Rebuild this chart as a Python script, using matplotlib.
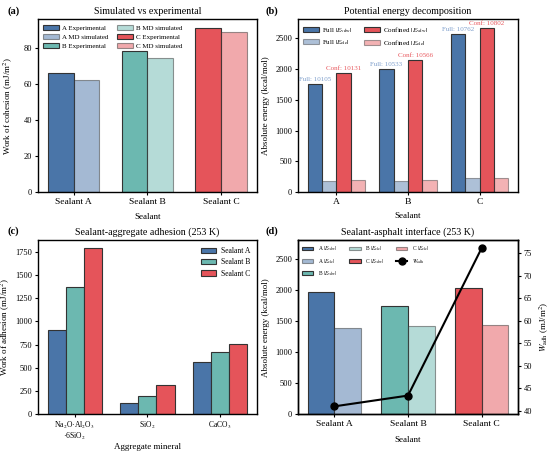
import matplotlib
matplotlib.use("Agg")
import matplotlib.pyplot as plt
import numpy as np

plt.rcParams['font.family'] = ['Liberation Serif', 'DejaVu Serif']
plt.rcParams['mathtext.fontset'] = 'stix'
plt.rcParams['font.size'] = 6.5

# ---- data ----
sealants = ['Sealant A', 'Sealant B', 'Sealant C']
short_sealants = ['A', 'B', 'C']
exp_cohesion = [66.0, 78.5, 91.5]
md_cohesion = [62.2, 74.8, 88.8]

full_vdw = [1750, 2000, 2560]
full_ele = [180, 190, 230]
conf_vdw = [1930, 2140, 2670]
conf_ele = [195, 205, 230]
full_total = [10105, 10533, 10762]
conf_total = [10131, 10566, 10802]

minerals = ['Na$_2$O·Al$_2$O$_3$\n·6SiO$_2$', 'SiO$_2$', 'CaCO$_3$']
adh_A = [910, 125, 565]
adh_B = [1365, 195, 665]
adh_C = [1785, 315, 760]

int_vdw = [1970, 1745, 2040]
int_ele = [1395, 1420, 1440]
w_adh = [41.0, 43.4, 76.2]

cA, cB, cC = '#4a75a8', '#6cb8b0', '#e5545a'
colors = [cA, cB, cC]
edge = '#333333'

fig = plt.figure(figsize=(5.5, 4.51), dpi=100)
W, H = 550.0, 451.0
def rect(l, r, t, b):
    return [l / W, 1 - b / H, (r - l) / W, (b - t) / H]

axa = fig.add_axes(rect(37.7, 257, 19.3, 192.3))
axb = fig.add_axes(rect(297.7, 518.3, 19.3, 192.3))
axc = fig.add_axes(rect(37.7, 257, 240, 414.3))
axd = fig.add_axes(rect(297.7, 518.3, 240, 414.3))

x = np.arange(3)
leg_kw = dict(frameon=False, handlelength=2.3, handletextpad=0.4, labelspacing=0.45,
              borderaxespad=0.4)
TITLE = 7.2

# (a)
w = 0.35
for i in range(3):
    axa.bar(x[i] - w/2, exp_cohesion[i], w, color=colors[i], edgecolor=edge, lw=0.8,
            label=f'{short_sealants[i]} Experimental')
    axa.bar(x[i] + w/2, md_cohesion[i], w, color=colors[i], edgecolor=edge, lw=0.8,
            alpha=0.5, label=f'{short_sealants[i]} MD simulated')
axa.set_xticks(x)
axa.set_xticklabels(sealants)
axa.set_xlabel('Sealant')
axa.set_ylabel('Work of cohesion (mJ/m$^2$)')
axa.set_title('Simulated vs experimental', fontsize=TITLE, pad=3.5)
axa.set_ylim(0, max(exp_cohesion) * 1.05)
axa.legend(ncol=2, fontsize=5, loc='upper left', columnspacing=1.3, **leg_kw)
axa.yaxis.set_label_coords(-0.103, 0.5)
axa.xaxis.set_label_coords(0.5, -0.12)

# (b)
wb = 0.2
axb.bar(x - 1.5*wb, full_vdw, wb, color=cA, edgecolor=edge, lw=0.8, label=r'Full $|E_{\mathrm{vdw}}|$')
axb.bar(x - 0.5*wb, full_ele, wb, color=cA, edgecolor=edge, lw=0.8, alpha=0.45, label=r'Full $|E_{\mathrm{ele}}|$')
axb.bar(x + 0.5*wb, conf_vdw, wb, color=cC, edgecolor=edge, lw=0.8, label=r'Confined $|E_{\mathrm{vdw}}|$')
axb.bar(x + 1.5*wb, conf_ele, wb, color=cC, edgecolor=edge, lw=0.8, alpha=0.45, label=r'Confined $|E_{\mathrm{ele}}|$')
for i in range(3):
    axb.text(x[i] - 1.5*wb, full_vdw[i] + 30, f'Full: {full_total[i]}', ha='center', va='bottom',
             fontsize=5, color='#7f9fcc')
    axb.text(x[i] + 0.5*wb, conf_vdw[i] + 30, f'Conf: {conf_total[i]}', ha='center', va='bottom',
             fontsize=5, color='#e8595e')
axb.set_xticks(x)
axb.set_xticklabels(short_sealants)
axb.set_xlabel('Sealant')
axb.set_ylabel('Absolute energy (kcal/mol)')
axb.set_title('Potential energy decomposition', fontsize=TITLE, pad=3.5)
axb.set_ylim(0, max(conf_vdw) * 1.05)
axb.legend(ncol=2, fontsize=5, loc='upper left', columnspacing=1.7, **leg_kw)
axb.yaxis.set_label_coords(-0.126, 0.5)
axb.xaxis.set_label_coords(0.5, -0.115)

# (c)
wc = 0.25
for j, (vals, c) in enumerate(zip([adh_A, adh_B, adh_C], colors)):
    axc.bar(x + (j - 1) * wc, vals, wc, color=c, edgecolor=edge, lw=0.8, label=sealants[j])
axc.set_xticks(x)
axc.set_xticklabels(minerals, linespacing=0.95)
axc.set_xlabel('Aggregate mineral')
axc.set_ylabel('Work of adhesion (mJ/m$^2$)')
axc.set_title('Sealant-aggregate adhesion (253 K)', fontsize=TITLE, pad=3.5)
axc.set_ylim(0, max(adh_C) * 1.05)
axc.legend(fontsize=5.5, loc='upper right', frameon=False, handlelength=2.0,
           handletextpad=0.6, labelspacing=0.45)
axc.yaxis.set_label_coords(-0.117, 0.5)
axc.xaxis.set_label_coords(0.5, -0.165)

# (d)
wd = 0.36
for i in range(3):
    axd.bar(x[i] - wd/2, int_vdw[i], wd, color=colors[i], edgecolor=edge, lw=0.8,
            label=rf'{short_sealants[i]} $|E_{{\mathrm{{vdw}}}}|$')
    axd.bar(x[i] + wd/2, int_ele[i], wd, color=colors[i], edgecolor=edge, lw=0.8, alpha=0.5,
            label=rf'{short_sealants[i]} $|E_{{\mathrm{{ele}}}}|$')
axd.set_ylim(0, 2810)
axd.set_xticks(x)
axd.set_xticklabels(sealants)
axd.set_xlabel('Sealant')
axd.set_ylabel('Absolute energy (kcal/mol)')
axd.set_title('Sealant-asphalt interface (253 K)', fontsize=TITLE, pad=3.5)
axd2 = axd.twinx()
axd2.plot(x, w_adh, color='black', lw=1.5, marker='o', ms=5, label=r'$W_{\mathrm{adh}}$')
axd2.set_ylabel(r'$W_{\mathrm{adh}}$ (mJ/m$^2$)')
h1, l1 = axd.get_legend_handles_labels()
h2, l2 = axd2.get_legend_handles_labels()
axd.legend(h1 + h2, l1 + l2, ncol=3, fontsize=4, loc='upper left', frameon=False,
           handlelength=2.0, handletextpad=0.8, columnspacing=2.2, labelspacing=0.6,
           borderaxespad=0.4)
axd.yaxis.set_label_coords(-0.126, 0.5)
axd.xaxis.set_label_coords(0.5, -0.123)
axd2.yaxis.set_label_coords(1.088, 0.5)

for ax in [axa, axb, axc, axd, axd2]:
    ax.tick_params(width=0.8, length=2.5, pad=1.5)
    ax.tick_params(axis='y', labelsize=6)
    ax.tick_params(axis='x', labelsize=6.8)
    for s in ax.spines.values():
        s.set_linewidth(1.0)
axc.tick_params(axis='x', labelsize=5.5)

fig.text(7 / W, 1 - 11 / H, '(a)', fontsize=7.5, fontweight='bold', va='center')
fig.text(266 / W, 1 - 11 / H, '(b)', fontsize=7.5, fontweight='bold', va='center')
fig.text(7 / W, 1 - 231 / H, '(c)', fontsize=7.5, fontweight='bold', va='center')
fig.text(266 / W, 1 - 231 / H, '(d)', fontsize=7.5, fontweight='bold', va='center')

fig.savefig('out.png', dpi=100)
